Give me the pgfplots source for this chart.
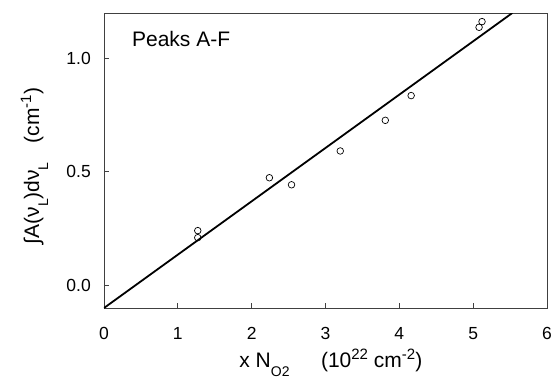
\documentclass[border=0pt]{standalone}
\usepackage{fontspec}
\setmainfont{Liberation Sans}
\usepackage{pgfplots}
\pgfplotsset{compat=1.18}
\newcommand\sub[1]{\raisebox{-9pt}{\fontsize{14}{16}\selectfont #1}}
\newcommand\sups[1]{\raisebox{8pt}{\fontsize{15}{17}\selectfont #1}}
\begin{document}
\begin{tikzpicture}
\begin{axis}[
  width=443pt, height=295pt, scale only axis,
  xmin=0, xmax=6, ymin=-0.1, ymax=1.2,
  xtick={0,1,2,3,4,5,6}, ytick={0,0.5,1.0},
  xtick pos=bottom, ytick pos=left, tick align=inside,
  major tick length=5pt,
  axis line style={black!75, line width=0.9pt},
  tick style={black!75, line width=0.8pt},
  /pgf/number format/assume math mode=true,
  yticklabel style={/pgf/number format/fixed, /pgf/number format/precision=1, /pgf/number format/fixed zerofill, anchor=east, inner sep=0pt, xshift=-13pt},
  xticklabel style={anchor=base, inner sep=0pt, yshift=-31pt},
  ticklabel style={font=\fontsize{17.5}{20}\selectfont},
  label style={font=\fontsize{21}{24}\selectfont},
  xlabel={x N\sub{O2}\hspace{1.5em}(10\sups{22} cm\sups{-2})},
  xlabel style={at={(axis description cs:0.512,0)}, anchor=base, inner sep=0pt, yshift=-59pt},
  ylabel={∫A(ν\sub{L})dν\sub{L}\hspace{0.9em}(cm\sups{-1})},
  ylabel style={at={(axis description cs:-0.1467,0.481)}, anchor=base, inner sep=0pt},
  clip=true,
]
\addplot[black, line width=1.8pt] coordinates {(0,-0.1) (5.53,1.2)};
\addplot[only marks, mark=o, mark size=3.3pt, mark options={black, line width=0.7pt}] coordinates {
(1.27,0.241) (1.27,0.21) (2.24,0.474) (2.54,0.443) (3.20,0.592) (3.81,0.727) (4.16,0.836) (5.08,1.137) (5.12,1.162)};
\node[anchor=base west, inner sep=0pt, font=\fontsize{21}{24}\selectfont] at (rel axis cs:0.063,0.885) {Peaks A-F};
\end{axis}
\path[use as bounding box] (-104pt,-73pt) rectangle (451pt,308pt);
\end{tikzpicture}
\end{document}
